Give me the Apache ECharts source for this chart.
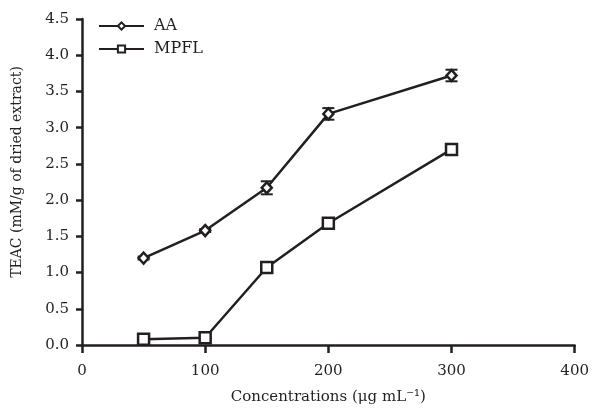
<!DOCTYPE html>
<html>
<head>
<meta charset="utf-8">
<script src="https://cdn.jsdelivr.net/npm/echarts@6/dist/echarts.min.js"></script>
<style>
  html, body { margin: 0; padding: 0; background: #fff; }
  #chart { width: 592px; height: 410px; }
</style>
</head>
<body>
<div id="chart"></div>
<script>
const concentrations = [50, 100, 150, 200, 300]
const aaValues = [1.2, 1.58, 2.17, 3.19, 3.72]
const aaErrors = [0.02, 0.02, 0.09, 0.08, 0.08]
const mpflValues = [0.08, 0.1, 1.07, 1.68, 2.7]
const mpflErrors = [0.01, 0.01, 0.02, 0.03, 0.02]

const font = '"DejaVu Serif", "Liberation Serif", serif'
const ink = '#231f20'

const pairs = (ys) => concentrations.map((x, i) => [x, ys[i]])

const errorSeries = (ys, errs) => ({
  type: 'custom',
  silent: true,
  z: 1,
  data: concentrations.map((x, i) => [x, ys[i] - errs[i], ys[i] + errs[i]]),
  renderItem: (params, api) => {
    const lo = api.coord([api.value(0), api.value(1)])
    const hi = api.coord([api.value(0), api.value(2)])
    const w = 6
    const style = { stroke: ink, lineWidth: 2 }
    return {
      type: 'group',
      children: [
        { type: 'line', shape: { x1: lo[0], y1: lo[1], x2: hi[0], y2: hi[1] }, style },
        { type: 'line', shape: { x1: lo[0] - w, y1: lo[1], x2: lo[0] + w, y2: lo[1] }, style },
        { type: 'line', shape: { x1: hi[0] - w, y1: hi[1], x2: hi[0] + w, y2: hi[1] }, style },
      ],
    }
  },
})

const chart = echarts.init(document.getElementById('chart'))
chart.setOption({
  backgroundColor: '#ffffff',
  animation: false,
  textStyle: { fontFamily: font, color: ink },
  grid: { left: 82, right: 15, top: 19, bottom: 65 },
  legend: {
    left: 93,
    top: 12,
    orient: 'vertical',
    itemWidth: 45,
    itemHeight: 9,
    itemGap: 5,
    textStyle: {
      fontFamily: font,
      fontSize: 16,
      lineHeight: 18,
      color: ink,
      padding: [0, 0, 0, 5],
    },
    data: ['AA', 'MPFL'],
  },
  xAxis: {
    type: 'value',
    min: 0,
    max: 400,
    interval: 100,
    name: 'Concentrations (μg mL⁻¹)',
    nameLocation: 'middle',
    nameGap: 45,
    nameTextStyle: { fontFamily: font, fontSize: 15, color: ink },
    axisLine: { lineStyle: { color: ink, width: 2.5 } },
    axisTick: { length: 8, lineStyle: { color: ink, width: 2.5 } },
    axisLabel: { fontFamily: font, fontSize: 15, color: ink, margin: 19 },
    splitLine: { show: false },
  },
  yAxis: {
    type: 'value',
    min: 0,
    max: 4.5,
    interval: 0.5,
    name: 'TEAC (mM/g of dried extract)',
    nameLocation: 'middle',
    nameGap: 58,
    nameTextStyle: { fontFamily: font, fontSize: 14, color: ink, padding: [0, 0, 0, 20] },
    axisLine: { show: true, lineStyle: { color: ink, width: 2.5 } },
    axisTick: { show: true, length: 6, lineStyle: { color: ink, width: 2.5 } },
    axisLabel: {
      fontFamily: font,
      fontSize: 15,
      color: ink,
      margin: 13,
      formatter: (v) => v.toFixed(1),
    },
    splitLine: { show: false },
  },
  series: [
    errorSeries(aaValues, aaErrors),
    errorSeries(mpflValues, mpflErrors),
    {
      name: 'AA',
      type: 'line',
      data: pairs(aaValues),
      symbol: 'diamond',
      symbolSize: [10, 11],
      z: 3,
      lineStyle: { color: ink, width: 2.5 },
      itemStyle: { color: '#ffffff', borderColor: ink, borderWidth: 2.5 },
    },
    {
      name: 'MPFL',
      type: 'line',
      data: pairs(mpflValues),
      symbol: 'rect',
      symbolSize: 11,
      z: 3,
      lineStyle: { color: ink, width: 2.5 },
      itemStyle: { color: '#ffffff', borderColor: ink, borderWidth: 2.5 },
    },
  ],
})
</script>
</body>
</html>
